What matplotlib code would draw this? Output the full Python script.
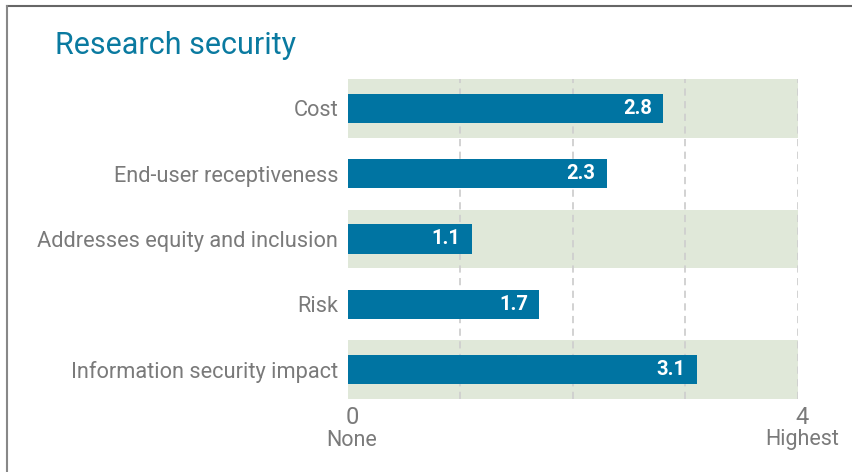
import numpy as np
import matplotlib
matplotlib.use("Agg")
import matplotlib.pyplot as plt
from matplotlib import transforms
from matplotlib.lines import Line2D

plt.rcParams["font.family"] = ["Roboto", "DejaVu Sans"]

BLUE, BAND, GREY, TITLE = "#0074a2", "#e0e8d9", "#7a7a7a", "#0a7aa0"

categories = ["Cost", "End-user receptiveness", "Addresses equity and inclusion",
              "Risk", "Information security impact"]
scores = [2.8, 2.3, 1.1, 1.7, 3.1]
axis_ticks = [0, 4]
axis_tick_labels = ["0", "4"]
axis_end_labels = ["None", "Highest"]
banded_rows = [0, 2, 4]

W, H = 853, 472
fig = plt.figure(figsize=(W / 100, H / 100), dpi=100)
ax = fig.add_axes([348 / W, 1 - 399 / H, 450 / W, 320 / H])

ys = np.arange(len(categories))
ax.set_xlim(0, 4)
ax.set_ylim(len(categories) - 0.55, -0.45)

# alternating green bands behind the rows
ax.barh([ys[i] for i in banded_rows], 4, height=0.9, left=0, color=BAND, zorder=0)
for g in [1, 2, 3, 4]:
    ax.axvline(g, color="#cfcfcf", lw=1.3, ls=(0, (4, 3)), zorder=1)
ax.barh(ys, scores, height=0.445, color=BLUE, zorder=2)

for y, v in zip(ys, scores):
    ax.annotate(f"{v:.1f}", (v, y), xytext=(-8, 0), textcoords="offset points",
                ha="right", va="center", color="white", fontsize=14.5,
                fontweight="bold", zorder=3)

ax.set_yticks(ys)
ax.set_yticklabels(categories, fontsize=15.7, color=GREY)
ax.tick_params(axis="y", length=0, pad=7)
ax.set_xticks([])
for s in ax.spines.values():
    s.set_visible(False)

tr = transforms.blended_transform_factory(ax.transData, fig.transFigure) + \
    transforms.ScaledTranslation(4 / 100, 0, fig.dpi_scale_trans)
for x, t, e in zip(axis_ticks, axis_tick_labels, axis_end_labels):
    fig.text(x, 1 - 417 / H, t, transform=tr, ha="center", va="center",
             fontsize=17, color=GREY)
    fig.text(x, 1 - 440 / H, e, transform=tr, ha="center", va="center",
             fontsize=15.5, color=GREY)

fig.text(55 / W, 1 - 45 / H, "Research security", ha="left", va="center",
         fontsize=22, color=TITLE)

# thin frame on top and left
fig.add_artist(Line2D([7 / W, 1], [1 - 6 / H, 1 - 6 / H], color="#666666", lw=1.5))
fig.add_artist(Line2D([7 / W, 7 / W], [0, 1 - 6 / H], color="#888888", lw=1.5))

fig.savefig("out.png", dpi=100)
